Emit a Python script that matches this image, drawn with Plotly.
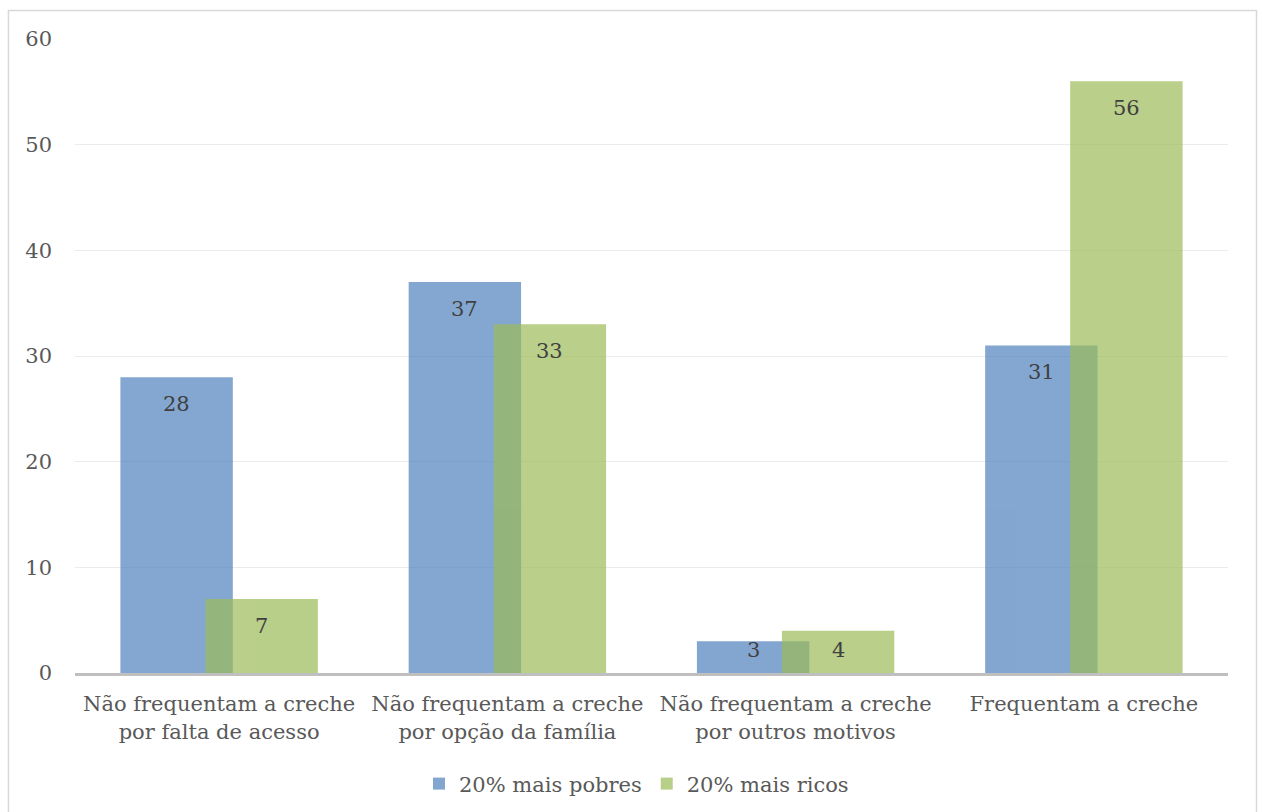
import numpy as np
import plotly.graph_objects as go

categories = [
    "Não frequentam a creche<br>por falta de acesso",
    "Não frequentam a creche<br>por opção da família",
    "Não frequentam a creche<br>por outros motivos",
    "Frequentam a creche",
]
pobres = [28, 37, 3, 31]
ricos = [7, 33, 4, 56]
series_names = ["20% mais pobres", "20% mais ricos"]
y_ticks = [0, 10, 20, 30, 40, 50, 60]

FONT = "DejaVu Serif"
FS = 21
TXT = "#595959"
LBL = "#404040"
BLUE = "#4F81BD"
GREEN = "#9BBB59"

pos = np.arange(len(categories))
shift = 0.1475
bw = 0.39

fig = go.Figure()
fig.add_trace(go.Bar(x=pos - shift, y=pobres, width=bw, name=series_names[0],
                     marker=dict(color=BLUE, line=dict(width=0)), opacity=0.7))
fig.add_trace(go.Bar(x=pos + shift, y=ricos, width=bw, name=series_names[1],
                     marker=dict(color=GREEN, line=dict(width=0)), opacity=0.7))

# value labels just below each bar's top (kept above the axis for short bars)
for xs, vals in ((pos - shift, pobres), (pos + shift, ricos)):
    for xv, v in zip(xs, vals):
        fig.add_annotation(x=xv, y=max(v - 2.55, 2.18), text=str(v), showarrow=False,
                           yanchor="middle", font=dict(family=FONT, size=FS, color=LBL))

# outer chart frame
fig.add_shape(type="rect", xref="paper", yref="paper",
              x0=-0.0577, x1=1.0247, y0=-0.3, y1=1.0449,
              line=dict(color="#D9D9D9", width=1.5), fillcolor="rgba(0,0,0,0)", layer="below")

fig.update_layout(
    width=1262, height=812,
    margin=dict(l=75, r=34, t=39, b=139, autoexpand=False),
    barmode="overlay",
    plot_bgcolor="white", paper_bgcolor="white",
    font=dict(family=FONT, size=FS, color=TXT),
    showlegend=True,
    legend=dict(orientation="h", x=0.487, xanchor="center", y=-0.175, yanchor="middle",
                font=dict(family=FONT, size=FS, color=TXT), itemwidth=30),
    xaxis=dict(range=[-0.5, 3.5], tickvals=pos, ticktext=categories, showgrid=False,
               showline=True, linecolor="#BFBFBF", linewidth=3, ticks="", zeroline=False,
               ticklabelstandoff=10,
               tickfont=dict(family=FONT, size=FS, color=TXT)),
    yaxis=dict(range=[0, 60], tickvals=y_ticks, showgrid=True, gridcolor="#EBEBEB",
               gridwidth=1, zeroline=False, showline=False, ticks="",
               ticklabelstandoff=22,
               tickfont=dict(family=FONT, size=FS, color=TXT)),
)

fig.write_html("out.html")
